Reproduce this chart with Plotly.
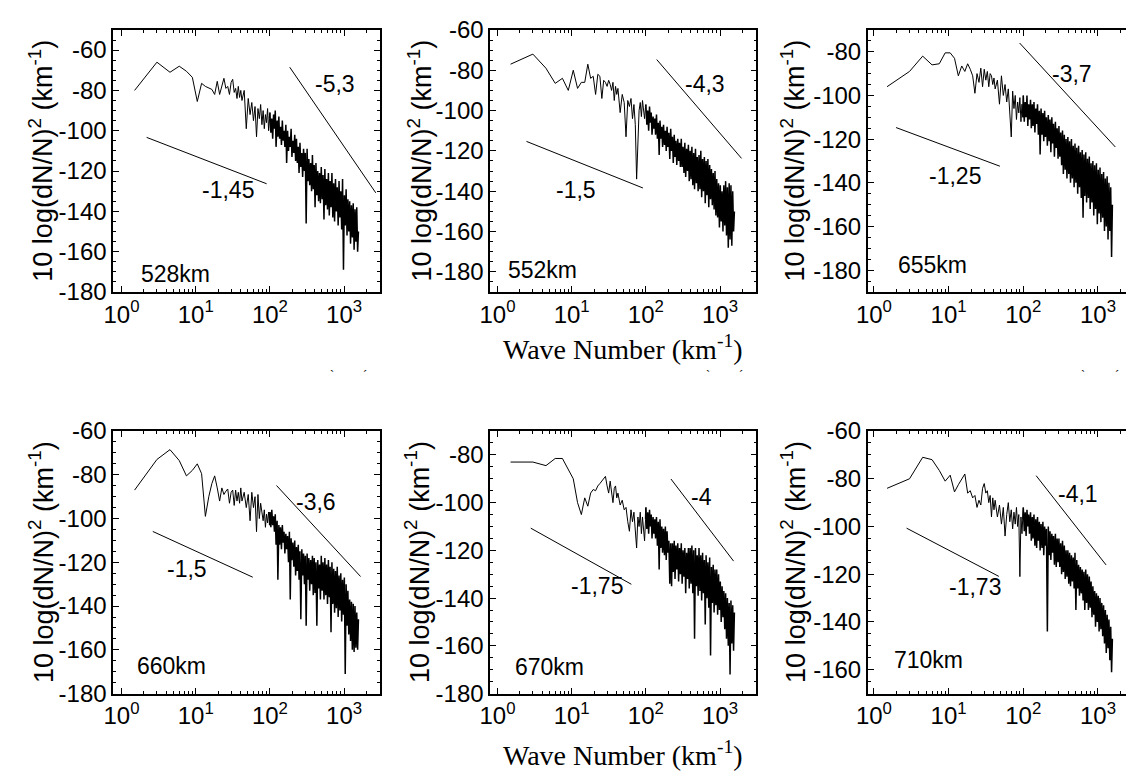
import numpy as np
import plotly.graph_objects as go

# ---------------- data ----------------
K_LOW = [1.5, 3, 4.5, 6, 7.5, 9, 10.5, 12, 13.5, 15, 16.5, 18, 19.5, 21, 22.5, 24, 25.5, 27, 28.5, 30,
         31.5, 33, 34.5, 36, 37.5, 39, 40.5, 42, 45, 48, 51, 54, 57, 60, 63, 66, 69, 72, 75, 78,
         81, 84, 87, 90, 93, 96, 99]
K_HIGH = [100, 103, 106, 109, 112, 115, 118, 121, 125, 128, 132, 135, 139, 143, 147, 151, 155, 159, 164, 168,
          173, 178, 183, 188, 193, 198, 204, 210, 216, 222, 228, 234, 241, 247, 254, 261, 269, 276, 284, 292,
          300, 308, 317, 326, 335, 344, 354, 364, 374, 384, 395, 406, 417, 429, 441, 453, 466, 479, 492, 506,
          520, 535, 550, 565, 581, 597, 614, 631, 648, 666, 685, 704, 724, 744, 765, 786, 808, 831, 854, 878,
          902, 927, 953, 980, 1007, 1035, 1064, 1094, 1124, 1156, 1188, 1221, 1255, 1290, 1326, 1363, 1401, 1440, 1480, 1520,
          1560]
WAVE_NUMBER = K_LOW + K_HIGH

S528 = [-80, -66, -71, -68, -70.5, -73.5, -85.5, -76.5, -78, -79, -79.5, -82, -75.5, -82, -77, -74, -79, -78, -82, -76,
        -74.5, -81, -79, -84, -78, -83.5, -80, -85, -80, -99, -84, -92, -86, -95, -88, -103, -89, -94, -87, -97,
        -90, -99, -92, -96, -89, -100, -94,
        -91, -101, -94, -104, -92, -99, -90, -108, -95, -103,
        -93, -104, -98, -107, -95, -105, -100, -108, -97, -116,
        -100, -110, -103, -108, -99, -113, -105, -111, -102, -115,
        -104, -116, -108, -121, -106, -118, -111, -123, -109, -120,
        -111, -146, -109, -125, -114, -127, -116, -130, -112, -129,
        -117, -138, -116, -132, -120, -135, -121, -136, -118, -134,
        -122, -144, -119, -137, -124, -139, -121, -142, -125, -138,
        -121, -143, -126, -145, -124, -140, -128, -147, -125, -143,
        -130, -149, -124, -169, -132, -147, -129, -152, -134, -150,
        -135, -156, -137, -153, -136, -159, -139, -155, -138, -160, -150]

S552 = [-77, -72, -79, -86.5, -84, -90, -80, -89, -86, -86, -77, -84, -83, -92, -82, -83, -94, -85, -86, -88,
        -85, -87, -90, -86, -95, -88, -92, -89, -101, -92, -96, -113, -95, -98, -94, -104, -97, -107, -134, -115,
        -100, -96, -103, -95, -99, -104, -98,
        -97, -107, -100, -110, -98, -106, -101, -112, -103, -109,
        -104, -112, -102, -114, -106, -122, -105, -114, -108, -118,
        -107, -117, -110, -120, -108, -118, -111, -124, -109, -120,
        -113, -126, -112, -123, -115, -127, -114, -125, -116, -128,
        -114, -128, -118, -131, -116, -133, -119, -130, -117, -135,
        -120, -134, -118, -137, -121, -139, -119, -136, -123, -140,
        -122, -139, -120, -143, -124, -140, -123, -146, -125, -142,
        -124, -148, -127, -144, -129, -147, -131, -149, -130, -152,
        -134, -153, -136, -158, -137, -155, -140, -160, -137, -157,
        -135, -162, -138, -168, -136, -164, -137, -167, -140, -160, -150]

S655 = [-96, -89, -82, -86, -85.5, -80.5, -80.5, -83, -91, -86.5, -89, -85.5, -88, -91, -99, -90, -94, -87.5, -96, -88,
        -93, -89, -96, -90, -91, -95, -92, -97, -93, -104, -91, -100, -95, -103, -97, -108, -119, -98, -106, -100,
        -111, -103, -108, -101, -112, -104, -110,
        -100, -112, -103, -110, -100, -114, -104, -111, -102, -115,
        -104, -114, -103, -117, -106, -113, -104, -118, -107, -127,
        -106, -118, -108, -121, -107, -119, -110, -123, -109, -121,
        -111, -126, -110, -122, -113, -128, -112, -124, -115, -129,
        -114, -128, -117, -132, -116, -136, -118, -134, -120, -138,
        -119, -136, -121, -140, -120, -138, -123, -142, -122, -140,
        -124, -145, -123, -142, -126, -147, -125, -156, -127, -146,
        -126, -149, -129, -147, -128, -152, -131, -149, -130, -155,
        -132, -152, -131, -159, -134, -154, -133, -158, -136, -156,
        -135, -162, -138, -160, -137, -166, -140, -162, -142, -174, -150]

S660 = [-87, -73, -68.5, -73.5, -80.5, -78, -75, -79.5, -99, -90, -84, -80.5, -86, -92, -86, -89, -87.5, -86.5, -93, -88,
        -87, -94, -87, -92, -88, -93, -86, -92, -88, -95, -89, -101, -88, -95, -90, -106, -89, -100, -93, -98,
        -101, -96, -104, -98, -102, -97, -103,
        -97, -104, -96, -103, -99, -106, -98, -112, -101, -128,
        -103, -112, -104, -114, -103, -111, -106, -116, -107, -114,
        -108, -120, -106, -137, -109, -119, -111, -122, -110, -126,
        -113, -124, -112, -128, -115, -146, -114, -126, -116, -130,
        -117, -149, -116, -128, -118, -133, -119, -130, -117, -135,
        -118, -134, -120, -149, -119, -132, -121, -137, -117, -133,
        -120, -137, -118, -135, -121, -139, -119, -136, -122, -152,
        -120, -139, -123, -143, -124, -141, -122, -145, -126, -142,
        -125, -147, -128, -144, -127, -171, -130, -149, -133, -153,
        -137, -156, -138, -160, -139, -161, -140, -159, -143, -160, -146]

S670 = [-83, -83, -84.5, -81.5, -81.5, -86, -90, -100, -105, -98, -101.5, -96, -94.5, -95, -93, -92, -91, -90, -89, -93,
        -96, -91, -95, -100, -94, -93, -98, -96, -101, -99, -103, -102, -108, -112, -103, -108, -104, -113, -119, -106,
        -110, -104, -113, -106, -111, -116, -107,
        -102, -111, -104, -113, -103, -110, -105, -115, -106, -113,
        -107, -115, -106, -118, -108, -128, -107, -119, -110, -121,
        -111, -122, -110, -124, -112, -121, -116, -134, -117, -135,
        -117, -129, -116, -132, -118, -128, -117, -133, -119, -130,
        -117, -134, -120, -131, -119, -138, -121, -132, -119, -136,
        -119, -134, -118, -138, -120, -157, -119, -135, -122, -139,
        -119, -137, -122, -141, -121, -138, -124, -151, -122, -140,
        -125, -144, -123, -164, -127, -142, -126, -146, -128, -143,
        -128, -147, -130, -145, -133, -150, -135, -148, -137, -153,
        -138, -157, -140, -160, -142, -172, -141, -159, -143, -162, -146]

S710 = [-84, -80, -71, -72, -76.5, -81, -78.5, -85.5, -82.5, -80, -78, -86, -85, -88, -87, -92, -89, -91, -84, -82,
        -86, -85, -90, -87, -96, -88, -93, -89, -96, -91, -99, -92, -104, -95, -90, -98, -93, -101, -94, -99,
        -92, -100, -95, -121, -96, -103, -97,
        -92, -102, -94, -104, -93, -100, -95, -103, -94, -106,
        -96, -105, -95, -108, -97, -109, -96, -106, -98, -110,
        -99, -109, -98, -112, -100, -108, -101, -144, -100, -112,
        -102, -114, -103, -111, -104, -116, -103, -117, -105, -115,
        -105, -117, -107, -120, -106, -119, -108, -122, -110, -121,
        -110, -124, -111, -125, -112, -123, -113, -126, -111, -135,
        -114, -126, -116, -129, -117, -128, -118, -131, -119, -135,
        -118, -132, -120, -135, -121, -134, -123, -138, -125, -137,
        -127, -142, -128, -140, -129, -144, -130, -143, -132, -146,
        -133, -149, -135, -153, -137, -151, -139, -156, -142, -161, -147]

# reference power-law slope segments: [k0, k1], [y0, y1]
SLOPES = {
    "528km": [([2.18, 90.3], [-103.3, -126.3]), ([185, 2670], [-68.5, -130.8])],
    "552km": [([2.46, 91.2], [-115.3, -138.4]), ([140, 1945], [-74.7, -123.7])],
    "655km": [([1.98, 48.6], [-114.7, -132.4]), ([89.3, 1706], [-76.0, -123.6])],
    "660km": [([2.64, 58.7], [-105.9, -126.8]), ([122.7, 1667], [-84.9, -126.5])],
    "670km": [([2.81, 63.7], [-110.7, -134.2]), ([217.8, 1521], [-90.1, -124.5])],
    "710km": [([2.74, 47.1], [-100.7, -120.9]), ([148.6, 1282], [-78.7, -116.1])],
}
SLOPE_LABELS = {
    "528km": ["-1,45", "-5,3"], "552km": ["-1,5", "-4,3"], "655km": ["-1,25", "-3,7"],
    "660km": ["-1,5", "-3,6"], "670km": ["-1,75", "-4"], "710km": ["-1,73", "-4,1"],
}
SERIES = {"528km": S528, "552km": S552, "655km": S655, "660km": S660, "670km": S670, "710km": S710}

# ---------------- layout (pixel geometry) ----------------
W, H = 1126, 779
FONT = "Arial, Liberation Sans, sans-serif"
SERIF = "Times New Roman, Liberation Serif, serif"

panels = [
    dict(name="528km", bx=(102.3, 372), by=(16.5, 288), xr=(-0.112, 3.484), yr=(-180, -50),
         lab1=(1.436, -129.2), lab2=(2.871, -76.9), lab0=(0.724, -171.2), tx=29, mirror=True),
    dict(name="552km", bx=(483.3, 752.3), by=(16.5, 288), xr=(-0.099, 3.488), yr=(-190, -60),
         lab1=(1.058, -139.2), lab2=(2.791, -86.6), lab0=(0.604, -179.0), tx=412, mirror=True),
    dict(name="655km", bx=(865, 1126), by=(16.5, 288), xr=(-0.082, 3.375), yr=(-190, -70),
         lab1=(1.082, -137.1), lab2=(2.658, -90.0), lab0=(0.781, -177.6), tx=789, mirror=False),
    dict(name="660km", bx=(102.3, 372), by=(432, 704), xr=(-0.112, 3.484), yr=(-180, -60),
         lab1=(0.88, -123.1), lab2=(2.622, -92.6), lab0=(0.68, -167.6), tx=30, mirror=True),
    dict(name="670km", bx=(483.3, 752.3), by=(432, 704), xr=(-0.099, 3.488), yr=(-180, -70),
         lab1=(1.338, -135.0), lab2=(2.747, -97.5), lab0=(0.702, -168.7), tx=410, mirror=True),
    dict(name="710km", bx=(865, 1126), by=(432, 704), xr=(-0.082, 3.375), yr=(-170, -60),
         lab1=(1.347, -125.2), lab2=(2.737, -86.2), lab0=(0.737, -156.0), tx=790, mirror=False),
]

fig = go.Figure()
annotations = []
xticks = [1, 10, 100, 1000]
xticktext = ["10<sup>0</sup>", "10<sup>1</sup>", "10<sup>2</sup>", "10<sup>3</sup>"]
xminor = [m * d for d in (1, 10, 100, 1000) for m in range(2, 10)]
nlow = len(K_LOW)

for i, p in enumerate(panels, start=1):
    xa, ya = f"x{i}", f"y{i}"
    name = p["name"]
    ys = SERIES[name]
    fig.add_trace(go.Scatter(x=WAVE_NUMBER[:nlow + 1], y=ys[:nlow + 1], mode="lines",
                             line=dict(color="black", width=1), xaxis=xa, yaxis=ya,
                             showlegend=False, hoverinfo="skip"))
    fig.add_trace(go.Scatter(x=WAVE_NUMBER[nlow - 1:], y=ys[nlow - 1:], mode="lines",
                             line=dict(color="black", width=1.5), xaxis=xa, yaxis=ya,
                             showlegend=False, hoverinfo="skip"))
    for (kx, ky) in SLOPES[name]:
        fig.add_trace(go.Scatter(x=kx, y=ky, mode="lines", line=dict(color="black", width=1),
                                 xaxis=xa, yaxis=ya, showlegend=False, hoverinfo="skip"))
    ylo, yhi = p["yr"]
    yt = [v for v in range(-180, -40, 20) if ylo <= v <= yhi]
    xdom = [p["bx"][0] / W, min(1.0, p["bx"][1] / W)]
    ydom = [1 - p["by"][1] / H, 1 - p["by"][0] / H]
    fig.layout[f"xaxis{i}"] = dict(
        type="log", range=list(p["xr"]), domain=xdom, anchor=ya,
        tickmode="array", tickvals=xticks, ticktext=xticktext,
        ticks="inside", ticklen=6, tickwidth=1.2, tickcolor="black",
        minor=dict(tickmode="array", tickvals=xminor, ticks="inside", ticklen=3, tickwidth=1, tickcolor="black"),
        showline=True, linecolor="black", linewidth=1.5, mirror="allticks",
        showgrid=False, zeroline=False,
        tickfont=dict(family=FONT, size=24, color="black"))
    fig.layout[f"yaxis{i}"] = dict(
        range=[ylo, yhi], domain=ydom, anchor=xa,
        tickmode="array", tickvals=yt, ticktext=[str(v) for v in yt],
        ticks="inside", ticklen=6, tickwidth=1.2, tickcolor="black",
        minor=dict(dtick=5, ticks="inside", ticklen=3, tickwidth=1, tickcolor="black"),
        showline=True, linecolor="black", linewidth=1.5,
        mirror="allticks" if p["mirror"] else False,
        showgrid=False, zeroline=False,
        tickfont=dict(family=FONT, size=24, color="black"))
    labs = SLOPE_LABELS[name]
    for (lx, ly), txt in ((p["lab1"], labs[0]), (p["lab2"], labs[1]), (p["lab0"], name)):
        annotations.append(dict(x=lx, y=ly, xref=xa, yref=ya, text=txt, showarrow=False,
                                font=dict(family=FONT, size=23, color="black"),
                                xanchor="center", yanchor="middle"))
    annotations.append(dict(x=p["tx"] / W, y=1 - (p["by"][0] + p["by"][1]) / 2 / H,
                            xref="paper", yref="paper", textangle=-90, showarrow=False,
                            text="10 log(dN/N)<sup>2</sup> (km<sup>-1</sup>)",
                            font=dict(family=FONT, size=27, color="black"),
                            xanchor="center", yanchor="middle"))

for yc in (345, 766):
    annotations.append(dict(x=618 / W, y=1 - yc / H, xref="paper", yref="paper", showarrow=False,
                            text="Wave Number (km<sup>-1</sup>)",
                            font=dict(family=SERIF, size=28, color="black"),
                            xanchor="center", yanchor="middle"))

# small clipped glyph fragments visible under the top row in the original
for xc in (323, 703, 1083):
    for dx, ch in ((0, "`"), (34, "´")):
        annotations.append(dict(x=(xc + dx) / W, y=1 - 374 / H, xref="paper", yref="paper",
                                showarrow=False, text=ch,
                                font=dict(family=SERIF, size=12, color="black"),
                                xanchor="center", yanchor="middle"))

fig.update_layout(width=W, height=H, margin=dict(l=0, r=0, t=0, b=0),
                  paper_bgcolor="white", plot_bgcolor="white",
                  annotations=annotations, showlegend=False)

fig.write_html("out.html", config={"displayModeBar": False},
               post_script="document.body.style.margin='0';document.body.style.overflow='hidden';")
